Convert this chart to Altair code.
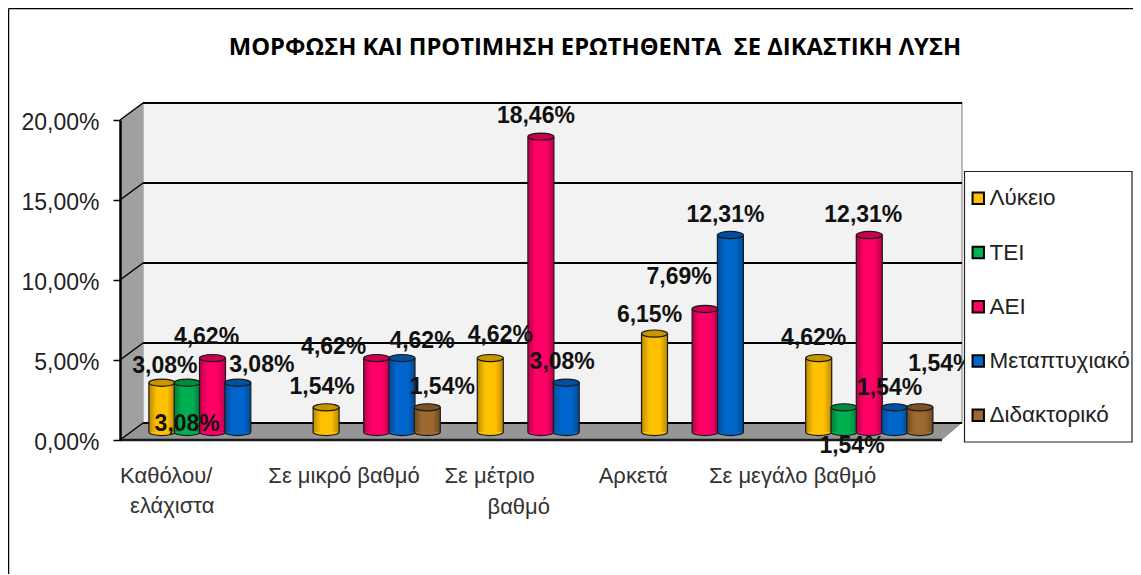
import altair as alt
import pandas as pd

CATEGORIES = ["Καθόλου/ελάχιστα", "Σε μικρό βαθμό", "Σε μέτριο βαθμό", "Αρκετά", "Σε μεγάλο βαθμό"]
SERIES = ["Λύκειο", "ΤΕΙ", "ΑΕΙ", "Μεταπτυχιακό", "Διδακτορικό"]
LYKEIO = [3.08, 1.54, 4.62, 6.15, 4.62]
TEI = [3.08, None, None, None, 1.54]
AEI = [4.62, 4.62, 18.46, 7.69, 12.31]
META = [3.08, 4.62, 3.08, 12.31, 1.54]
DID = [None, 1.54, None, None, 1.54]
VALUES = [LYKEIO, TEI, AEI, META, DID]

MAIN = ["#ffc000", "#00b050", "#ff0066", "#0066cc", "#9c6a30"]
DARK = ["#b98a00", "#007a38", "#b80049", "#004a96", "#6e4a20"]
EDGE = ["#c79500", "#008a3e", "#c8004f", "#00509f", "#7a5226"]

# hand placement of the value labels, relative to the top of each cylinder
NUDGE = {
    (0, 0): (3, -17), (0, 1): (0, 41), (0, 2): (-6, -21), (0, 3): (24, -18),
    (1, 0): (-4, -20), (1, 2): (-43, -11), (1, 3): (20, -17), (1, 4): (15, -20),
    (2, 0): (10, -23), (2, 2): (-5, -21), (2, 3): (-4, -21),
    (3, 0): (-5, -19), (3, 2): (-26, -32), (3, 3): (-5, -20),
    (4, 0): (-5, -20), (4, 1): (8, 39), (4, 2): (-6, -20), (4, 3): (-5, -19), (4, 4): (21, -43),
}
# category captions: text, category index, dx, plot-relative y
CAPTIONS = [
    ("Καθόλου/", 0, -82, 356), ("ελάχιστα", 0, -72, 386),
    ("Σε μικρό βαθμό", 1, -98, 356),
    ("Σε μέτριο", 2, -86, 356), ("βαθμό", 2, -43, 387),
    ("Αρκετά", 3, -96, 356),
    ("Σε μεγάλο βαθμό", 4, -150, 356),
]
TITLE = "ΜΟΡΦΩΣΗ ΚΑΙ ΠΡΟΤΙΜΗΣΗ ΕΡΩΤΗΘΕΝΤΑ\u00a0 ΣΕ ΔΙΚΑΣΤΙΚΗ ΛΥΣΗ"

GROUP_W = 821 / 5
STEP = 25.3 / GROUP_W
rows = []
for s, (name, vals) in enumerate(zip(SERIES, VALUES)):
    for c, v in enumerate(vals):
        if v is not None:
            rows.append({"cidx": c, "sidx": s, "series": name, "v": v,
                         "pos": c + 0.5 + (s - 2) * STEP,
                         "label": f"{v:.2f}%".replace(".", ",")})
df = pd.DataFrame(rows)

XS = alt.Scale(domain=[0, 5], nice=False, zero=False, padding=0)
YS = alt.Scale(domain=[0, 20], nice=False)
AX = alt.Axis(
    values=[0, 5, 10, 15, 20], grid=False, domainColor="black", domainWidth=2.5, tickColor="black",
    tickWidth=1.5, tickSize=7, labelPadding=14, labelOffset=2, labelFont="Liberation Sans", labelFontSize=23,
    labelColor="#222222", zindex=1, title=None,
    labelExpr="replace(format(datum.value,'.2f'),'.',',')+'%'")
X = alt.X("pos:Q", scale=XS, axis=None, title=None)
Y = alt.Y("v:Q", scale=YS, axis=AX, title=None)
Y0 = alt.YDatum(0, scale=YS, axis=AX, title=None)
DX, DY = 10.4, -8
W = 26
ELL = "M-13,0 A13,3.6 0 1,1 13,0 A13,3.6 0 1,1 -13,0 Z"
LINE = "#1a1a1a"
lvl = pd.DataFrame({"v": [0, 5, 10, 15, 20]})
base0 = pd.DataFrame({"v": [0]})


def poly(path, fill):
    return alt.Chart(base0).mark_point(shape=path, size=4, filled=True, fill=fill, opacity=1, strokeWidth=0).encode(
        x=alt.value(0), y=Y)


layers = []
# back wall
layers.append(alt.Chart(base0).mark_rect(fill="#f2f2f2", stroke="#a6a6a6", strokeWidth=1.5, yOffset=-17, y2Offset=-17).encode(
    x=alt.value(23), x2=alt.value(842), y=Y, y2=alt.datum(20)))
# side wall, floor
layers.append(poly("M0,0 L0,-320 L23,-337 L23,-17 Z", "#a0a0a0"))
layers.append(poly("M0,0 L23,-17 L842,-17 L822,0 Z", "#969696"))
# gridlines
layers.append(alt.Chart(lvl).mark_rule(color="black", strokeWidth=2, yOffset=-17).encode(
    x=alt.value(23), x2=alt.value(842), y=Y))
layers.append(alt.Chart(lvl).mark_point(shape="M0,0 L23,-17", size=4, filled=False, stroke="black", strokeWidth=1.5, opacity=1).encode(
    x=alt.value(0), y=Y))
# baseline
layers.append(alt.Chart(base0).mark_rule(color=LINE, strokeWidth=2.5).encode(
    x=alt.value(0), x2=alt.value(822), y=Y))

# cylinder bottoms (carry the legend)
layers.append(alt.Chart(df).mark_point(shape=ELL, size=4, filled=True, stroke=LINE, strokeWidth=1.2, opacity=1,
                                       xOffset=DX, yOffset=DY).encode(
    x=X, y=Y0,
    fill=alt.Fill("series:N", scale=alt.Scale(domain=SERIES, range=MAIN), legend=alt.Legend(
        orient="none", legendX=847, legendY=67, title=None, symbolType="square", symbolSize=130,
        symbolStrokeColor="black", symbolStrokeWidth=2, labelFont="Liberation Sans", labelFontSize=22.5,
        labelColor="#222222", labelOffset=0, rowPadding=31.25, padding=0, zindex=1, labelLimit=300))))

for s, name in enumerate(SERIES):
    sub = df[df.sidx == s]
    grad = alt.Gradient(gradient="linear", x1=0, x2=1, y1=0, y2=0, stops=[
        alt.GradientStop(color=DARK[s], offset=0),
        alt.GradientStop(color=MAIN[s], offset=0.3),
        alt.GradientStop(color=MAIN[s], offset=0.7),
        alt.GradientStop(color=DARK[s], offset=1),
    ])
    layers.append(alt.Chart(sub).mark_bar(width=W, orient="vertical", fill=grad, xOffset=DX, yOffset=DY, y2Offset=DY).encode(
        x=X, y=Y, y2=alt.datum(0)))
    for side in (-W / 2, W / 2):
        layers.append(alt.Chart(sub).mark_rule(color=LINE, strokeWidth=1.2, xOffset=DX + side, yOffset=DY, y2Offset=DY).encode(
            x=X, y=Y, y2=alt.datum(0)))
    layers.append(alt.Chart(sub).mark_point(shape=ELL, size=4, filled=True, fill=EDGE[s], stroke=LINE, strokeWidth=1.2,
                                            opacity=1, xOffset=DX, yOffset=DY).encode(x=X, y=Y))

# value labels
for r in rows:
    dx, dy = NUDGE[(r["cidx"], r["sidx"])]
    layers.append(alt.Chart(pd.DataFrame([r])).mark_text(
        font="Liberation Sans", fontWeight="bold", fontSize=23, color="#111111", baseline="middle", align="center",
        dx=dx + DX, dy=dy + DY).encode(x=X, y=Y, text="label:N"))

# category captions
for text, c, dx, ypx in CAPTIONS:
    layers.append(alt.Chart(pd.DataFrame({"pos": [c + 0.5], "t": [text]})).mark_text(
        font="Liberation Sans", fontSize=22, color="#333333", align="left", baseline="middle", dx=dx).encode(
        x=X, y=alt.value(ypx), text="t:N"))

# title
layers.append(alt.Chart(pd.DataFrame({"t": [TITLE]})).mark_text(
    font="Open Sans", fontWeight="bold", fontSize=23.75, color="black", align="center", baseline="middle").encode(
    x=alt.value(475), y=alt.value(-72.5), text="t:N"))

# frame
layers.append(alt.Chart(base0).mark_rule(color="black", strokeWidth=1.5).encode(
    x=alt.value(-111.5), y=alt.value(-111.5), y2=alt.value(460)))
layers.append(alt.Chart(base0).mark_rule(color="black", strokeWidth=1.5).encode(
    x=alt.value(-111.5), x2=alt.value(1025), y=alt.value(-111.5)))

# legend box
layers.append(alt.Chart(base0).mark_rect(fill="white", stroke="#222222", strokeWidth=1.2).encode(
    x=alt.value(844.5), x2=alt.value(1012), y=alt.value(51.5), y2=alt.value(322)))

chart = alt.layer(*layers).properties(
    width=821, height=320,
    padding={"left": 112, "top": 112, "right": 192, "bottom": 134},
    autosize=alt.AutoSizeParams(type="none"),
    background="white",
).configure_view(stroke=None)

chart.save("out.html", embed_options={"renderer": "svg", "actions": False})
